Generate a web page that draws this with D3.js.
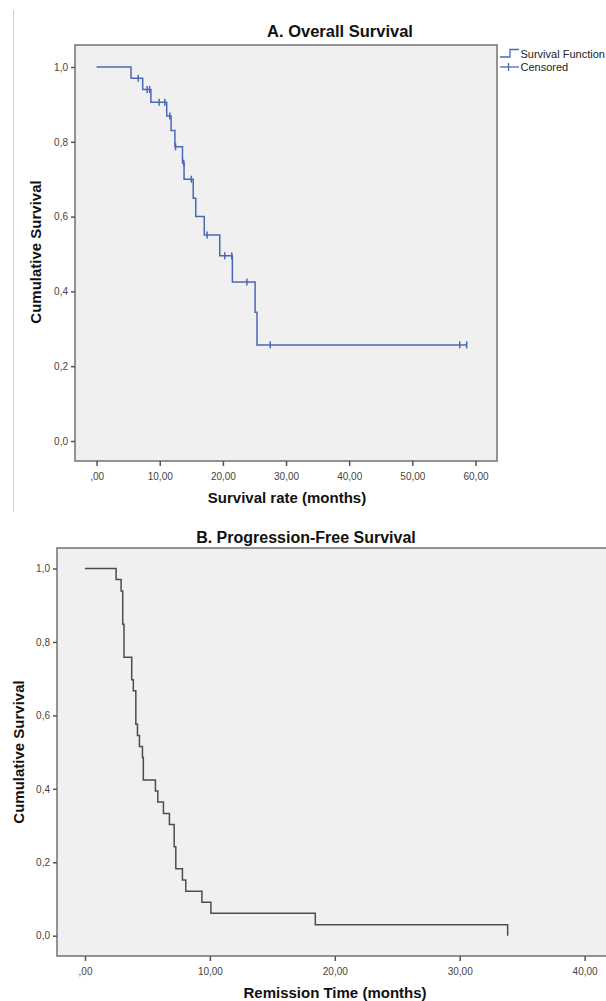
<!DOCTYPE html>
<html>
<head>
<meta charset="utf-8">
<script src="https://cdn.jsdelivr.net/npm/d3@7"></script>
<style>
  body { margin: 0; background: #fff; }
  svg { display: block; font-family: "Liberation Sans", Arial, sans-serif; }
</style>
</head>
<body>
<div id="chart"></div>
<script>
// panel A - overall survival (event times and survival after each event)
var timesA = [5.45, 7.3, 8.6, 11.1, 11.8, 12.4, 13.6, 13.85, 15.3, 15.7, 17.05, 19.5, 21.5, 25.1, 25.4];
var survA = [0.970, 0.940, 0.906, 0.869, 0.830, 0.787, 0.743, 0.700, 0.649, 0.600, 0.551, 0.495, 0.425, 0.344, 0.257];
var censorA = [6.6, 8.0, 8.4, 9.9, 10.8, 11.6, 12.5, 13.8, 15.0, 17.5, 20.3, 21.4, 23.8, 27.5, 57.5, 58.6];

// panel B - progression free survival
var timesB = [2.49, 2.89, 3.02, 3.12, 3.74, 3.87, 4.07, 4.2, 4.36, 4.6, 4.67, 5.64, 5.83, 6.28, 6.76, 7.14, 7.27, 7.8, 8.07, 9.36, 10.08, 18.44, 33.84];
var survB = [0.970, 0.939, 0.848, 0.758, 0.697, 0.667, 0.576, 0.545, 0.515, 0.485, 0.424, 0.394, 0.364, 0.333, 0.303, 0.242, 0.182, 0.152, 0.121, 0.091, 0.061, 0.030, 0];

var yTicks = [0, 0.2, 0.4, 0.6, 0.8, 1.0];
var xTicksA = [0, 10, 20, 30, 40, 50, 60];
var xTicksB = [0, 10, 20, 30, 40];

var W = 606, H = 1001;
var svg = d3.select("#chart").append("svg")
  .attr("width", W)
  .attr("height", H);

// thin separator line at left of panel A
svg.append("line")
  .attr("x1", 13.5).attr("x2", 13.5)
  .attr("y1", 10).attr("y2", 512)
  .attr("stroke", "#cfcfcf");

function fmtX(d) { return d == 0 ? ",00" : d + ",00"; }
function fmtY(d) { return d3.format(".1f")(d).replace(".", ","); }

function survAt(times, surv, t) {
  var s = 1;
  for (var i = 0; i < times.length; i++) {
    if (times[i] <= t) s = surv[i];
  }
  return s;
}

function panel(opt) {
  var g = svg.append("g");
  var x = d3.scaleLinear().domain([0, 10]).range([opt.x0, opt.x10]);
  var y = d3.scaleLinear().domain([0, 1]).range([opt.y0, opt.y1]);

  g.append("rect")
    .attr("x", opt.left).attr("y", opt.top)
    .attr("width", opt.right - opt.left)
    .attr("height", opt.bottom - opt.top)
    .attr("fill", "#f0f0f0")
    .attr("stroke", "#7a7a7a")
    .attr("stroke-width", 1.6);

  // x axis
  var xa = g.append("g")
    .attr("transform", "translate(0," + opt.bottom + ")")
    .call(d3.axisBottom(x).tickValues(opt.xTicks).tickFormat(fmtX).tickSize(5).tickSizeOuter(0));
  xa.select(".domain").remove();
  xa.selectAll("line").attr("stroke", "#555").attr("stroke-width", 1.5);
  xa.selectAll("text").attr("fill", "#444").attr("font-size", "10px").attr("dy", "1.05em")
    .attr("font-family", "Liberation Sans, Arial, sans-serif");

  var ya = g.append("g")
    .attr("transform", "translate(" + opt.left + ",0)")
    .call(d3.axisLeft(y).tickValues(yTicks).tickFormat(fmtY).tickSize(4).tickSizeOuter(0));
  ya.select(".domain").remove();
  ya.selectAll("line").attr("stroke", "#555").attr("stroke-width", 1.5);
  ya.selectAll("text").attr("fill", "#444").attr("font-size", "10px")
    .attr("font-family", "Liberation Sans, Arial, sans-serif");

  // step curve
  var pts = [[0, 1]];
  for (var i = 0; i < opt.times.length; i++) pts.push([opt.times[i], opt.surv[i]]);
  if (opt.extend) pts.push([opt.extend, opt.surv[opt.surv.length - 1]]);

  var line = d3.line()
    .x(function(d) { return x(d[0]); })
    .y(function(d) { return y(d[1]); })
    .curve(d3.curveStepAfter);

  g.append("path")
    .datum(pts)
    .attr("d", line)
    .attr("fill", "none")
    .attr("stroke", opt.color)
    .attr("stroke-width", 1.5);

  if (opt.censor) {
    g.selectAll(".cens")
      .data(opt.censor)
      .enter().append("line")
      .attr("class", "cens")
      .attr("x1", function(d) { return x(d); })
      .attr("x2", function(d) { return x(d); })
      .attr("y1", function(d) { return y(survAt(opt.times, opt.surv, d)) - 3.5; })
      .attr("y2", function(d) { return y(survAt(opt.times, opt.surv, d)) + 3.5; })
      .attr("stroke", opt.color)
      .attr("stroke-width", 1.5);
  }

  // titles
  g.append("text")
    .attr("x", opt.titleX).attr("y", opt.titleY)
    .attr("text-anchor", "middle")
    .attr("font-size", opt.titleSize).attr("font-weight", "bold").attr("fill", "#111")
    .text(opt.title);

  g.append("text")
    .attr("x", opt.xLabX).attr("y", opt.xLabY)
    .attr("text-anchor", "middle")
    .attr("font-size", "15px").attr("font-weight", "bold").attr("fill", "#111")
    .text(opt.xLab);

  g.append("text")
    .attr("transform", "translate(" + opt.yLabX + "," + opt.yLabY + ") rotate(-90)")
    .attr("text-anchor", "middle")
    .attr("font-size", "15px").attr("font-weight", "bold").attr("fill", "#111")
    .text("Cumulative Survival");

  return g;
}

panel({
  left: 75, right: 497, top: 45, bottom: 461,
  x0: 96.6, x10: 159.75, y0: 441, y1: 67,
  xTicks: xTicksA, times: timesA, surv: survA, censor: censorA, extend: 58.6,
  color: "#4b67b8",
  title: "A. Overall Survival", titleX: 340, titleY: 37, titleSize: "16.5px",
  xLab: "Survival rate (months)", xLabX: 287, xLabY: 503,
  yLabX: 41, yLabY: 252
});

panel({
  left: 57, right: 612, top: 548, bottom: 956,
  x0: 85, x10: 209.9, y0: 935.7, y1: 568.5,
  xTicks: xTicksB, times: timesB, surv: survB, censor: null, extend: null,
  color: "#4d4d4d",
  title: "B. Progression-Free Survival", titleX: 306, titleY: 543, titleSize: "16px",
  xLab: "Remission Time (months)", xLabX: 335, xLabY: 998,
  yLabX: 24, yLabY: 752
});

// legend for panel A
var leg = svg.append("g");
leg.append("path")
  .attr("d", "M500,57 H510 V49.5 H519")
  .attr("fill", "none").attr("stroke", "#4b67b8").attr("stroke-width", 1.3);
leg.append("text")
  .attr("x", 520.5).attr("y", 57.5)
  .attr("font-size", "11px").attr("fill", "#222")
  .text("Survival Function");
leg.append("line")
  .attr("x1", 500).attr("x2", 519).attr("y1", 67).attr("y2", 67)
  .attr("stroke", "#4b67b8").attr("stroke-width", 1.3);
leg.append("line")
  .attr("x1", 508.5).attr("x2", 508.5).attr("y1", 63).attr("y2", 71)
  .attr("stroke", "#4b67b8").attr("stroke-width", 1.3);
leg.append("text")
  .attr("x", 520.5).attr("y", 71)
  .attr("font-size", "11px").attr("fill", "#222")
  .text("Censored");
</script>
</body>
</html>
